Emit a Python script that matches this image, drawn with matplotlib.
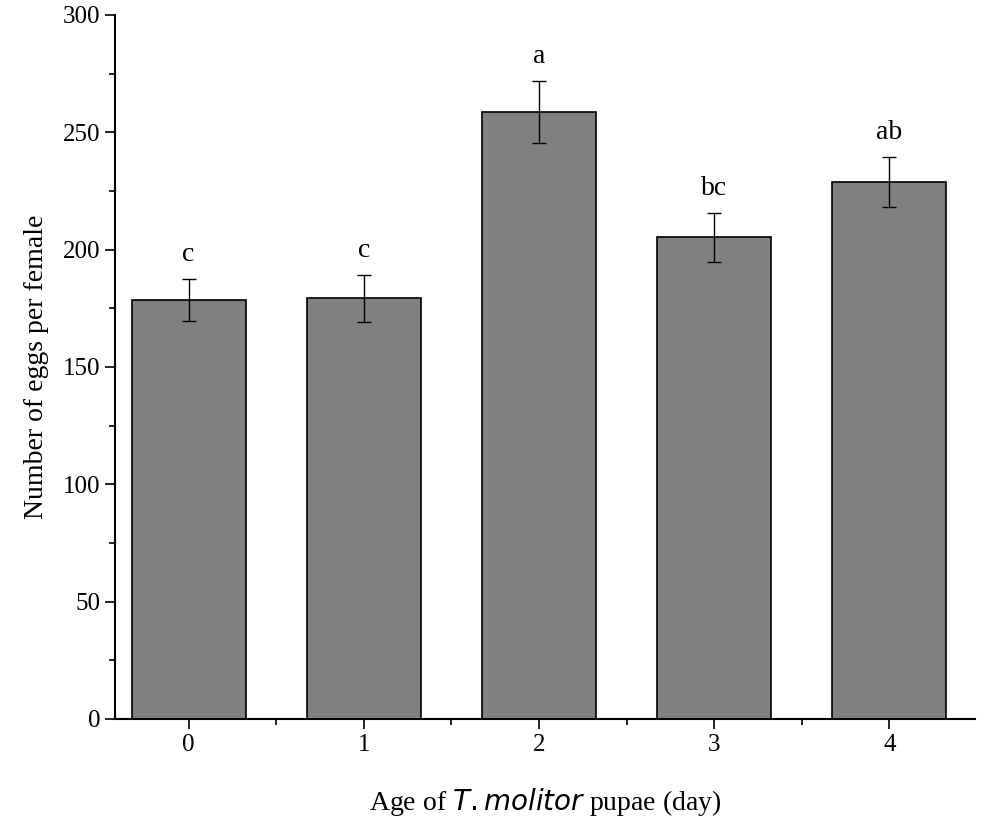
import matplotlib
matplotlib.use("Agg")
import matplotlib.pyplot as plt
from matplotlib.ticker import MultipleLocator

categories = ["0", "1", "2", "3", "4"]
values = [178.5, 179.2, 258.6, 205.2, 228.8]
errors = [9.0, 10.0, 13.2, 10.4, 10.6]
letters = ["c", "c", "a", "bc", "ab"]

plt.rcParams["font.family"] = "Liberation Serif"
fig = plt.figure(figsize=(9.94, 8.27), dpi=100)
ax = fig.add_axes([0.1157, 0.1306, 0.8653, 0.8513])
x = list(range(len(categories)))
ax.bar(x, values, width=0.65, color="#808080", edgecolor="black", linewidth=1.2,
       yerr=errors, error_kw=dict(ecolor="black", elinewidth=1, capsize=5, capthick=1))
for xi, v, e, l in zip(x, values, errors, letters):
    ax.text(xi, v + e + 5, l, ha="center", va="bottom", fontsize=20)
ax.set_xlim(-0.42, 4.49)
ax.set_ylim(0, 300)
ax.set_xticks(x)
ax.set_xticklabels(categories)
ax.xaxis.set_minor_locator(MultipleLocator(0.5))
ax.yaxis.set_major_locator(MultipleLocator(50))
ax.yaxis.set_minor_locator(MultipleLocator(25))
ax.tick_params(axis="both", which="major", direction="out", length=7, width=1.2, labelsize=18)
ax.tick_params(axis="both", which="minor", direction="out", length=4, width=1.2)
for s in ["top", "right"]:
    ax.spines[s].set_visible(False)
for s in ["left", "bottom"]:
    ax.spines[s].set_linewidth(1.5)
ax.set_ylabel("Number of eggs per female", fontsize=20, labelpad=10)
ax.set_xlabel("Age of $\\it{T. molitor}$ pupae (day)", fontsize=20, labelpad=22)
fig.savefig("out.png", dpi=100)
